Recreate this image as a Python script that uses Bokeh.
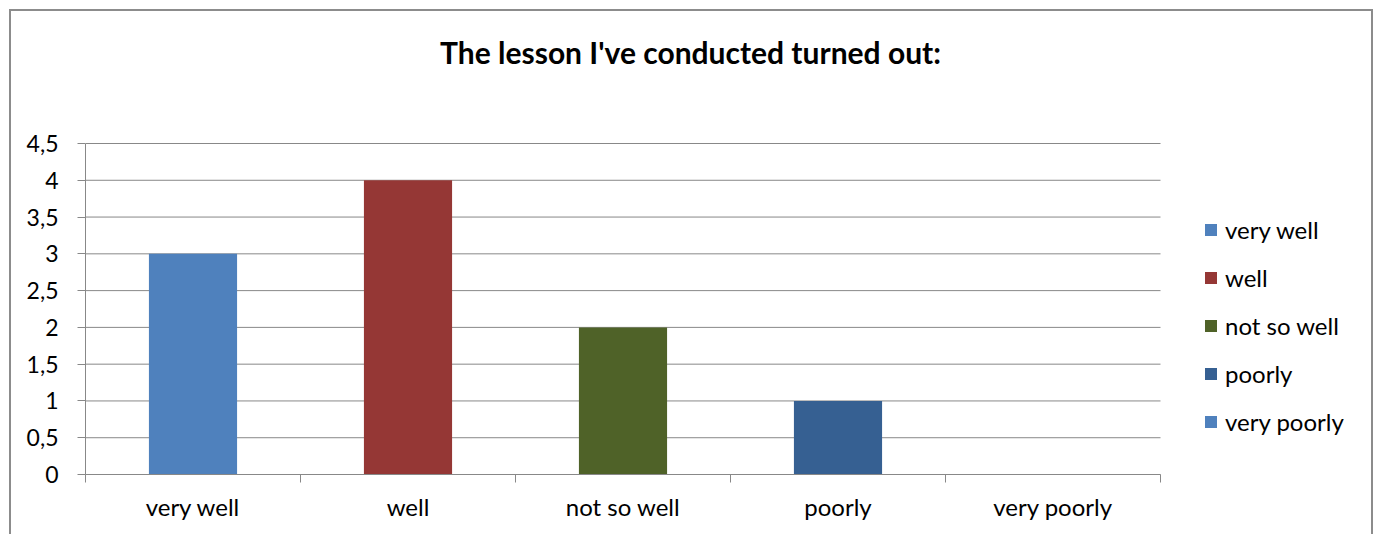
from bokeh.plotting import figure
from bokeh.models import (FixedTicker, Legend, LegendItem, Range1d, Label, LinearAxis)
from bokeh.embed import file_html
from bokeh.resources import INLINE

categories = ["very well", "well", "not so well", "poorly", "very poorly"]
values = [3, 4, 2, 1, 0]
colors = ["#4F81BD", "#953735", "#4F6228", "#366092", "#4F81BD"]
y_ticks = [0, 0.5, 1, 1.5, 2, 2.5, 3, 3.5, 4, 4.5]
y_tick_labels = ["0", "0,5", "1", "1,5", "2", "2,5", "3", "3,5", "4", "4,5"]
title_text = "The lesson I've conducted turned out:"

FONT = "Lato"
GRID = "#888888"

n = len(categories)
xs = [i + 0.5 for i in range(n)]
y_max = y_ticks[-1]

# frame covers the whole canvas above/right of the axes so the title and legend are not clipped
p = figure(width=1364, height=525, output_backend="svg", toolbar_location=None,
           x_range=Range1d(0, n * 1290 / 1075), y_range=Range1d(0, y_max * 463 / 331),
           min_border_left=74, min_border_right=0, min_border_top=0,
           min_border_bottom=62, x_axis_location=None, y_axis_location=None)
p.outline_line_color = None
p.background_fill_color = "white"
p.border_fill_color = "white"
p.styles = {"margin-left": "9px", "margin-top": "9px",
            "border-left": "2px solid #8c8c8c", "border-top": "2px solid #8c8c8c",
            "border-right": "2px solid #8c8c8c", "box-sizing": "border-box"}
p.xgrid.visible = False
p.ygrid.visible = False

# horizontal gridlines across the plotting area only
p.segment(x0=[0] * len(y_ticks), x1=[n] * len(y_ticks), y0=y_ticks, y1=y_ticks,
          line_color=GRID, line_width=1)

r = p.vbar(x=xs, top=values, width=0.41, bottom=0, fill_color=colors, line_color=None)

# y axis
yax = LinearAxis(ticker=FixedTicker(ticks=y_ticks), bounds=(0, y_max),
                 major_label_overrides={t: l for t, l in zip(y_ticks, y_tick_labels)})
yax.axis_line_color = GRID
yax.major_tick_line_color = GRID
yax.major_tick_out = 8
yax.major_tick_in = 0
yax.minor_tick_line_color = None
yax.major_label_text_font = FONT
yax.major_label_text_font_size = "23px"
yax.major_label_text_color = "black"
yax.major_label_standoff = 19
p.add_layout(yax, "left")

# x axis: labels at category centres, ticks at category boundaries
xax = LinearAxis(ticker=FixedTicker(ticks=xs, minor_ticks=list(range(n + 1))), bounds=(0, n),
                 major_label_overrides={x: c for x, c in zip(xs, categories)})
xax.axis_line_color = GRID
xax.major_tick_line_color = None
xax.minor_tick_line_color = GRID
xax.minor_tick_out = 8
xax.minor_tick_in = 0
xax.major_label_text_font = FONT
xax.major_label_text_font_size = "24px"
xax.major_label_text_color = "black"
xax.major_label_standoff = 9
p.add_layout(xax, "below")

title = Label(x=2.814, y=5.74, text=title_text, text_align="center",
              text_baseline="middle", text_font=FONT, text_font_size="30px",
              text_font_style="bold", text_color="black")
p.add_layout(title)

items = [LegendItem(label=c, renderers=[r], index=i) for i, c in enumerate(categories)]
legend = Legend(items=items, location=(1118, 38), orientation="vertical",
                border_line_color=None, background_fill_alpha=0,
                label_text_font=FONT, label_text_font_size="24px",
                label_text_color="black",
                glyph_width=15, glyph_height=15, label_standoff=7,
                label_height=30, spacing=18, padding=0, margin=0)
p.add_layout(legend, "center")

open("out.html", "w").write(file_html(p, INLINE))
